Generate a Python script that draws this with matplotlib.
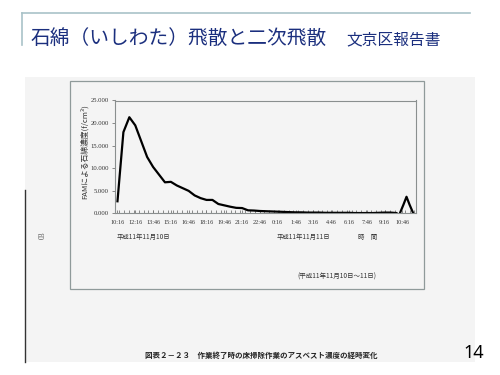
import numpy as np
import matplotlib
matplotlib.use("Agg")
import matplotlib.pyplot as plt
from matplotlib.patches import Rectangle

JP = ["Noto Sans CJK JP", "DejaVu Sans"]
SERIF = ["Liberation Serif", "DejaVu Serif"]

# FAM asbestos concentration (f/cm3), one reading every 30 min from 10:16
conc = [2.7, 18.0, 21.3, 19.5, 16.0, 12.5, 10.3, 8.6, 6.9, 7.0,
        6.2, 5.6, 5.0, 4.0, 3.4, 3.0, 3.0, 2.1, 1.8, 1.5,
        1.25, 1.2, 0.7, 0.65, 0.55, 0.5, 0.45, 0.4, 0.35, 0.3,
        0.25, 0.25, 0.2, 0.2, 0.2, 0.15, 0.15, 0.15, 0.15, 0.15,
        0.1, 0.1, 0.1, 0.1, 0.15, 0.2, 0.2, 0.1]
# second burst near the end (position in 30 min steps, value)
spike_pos = [47.6, 48.2, 48.7, 49.2, 49.85]
spike_val = [0.1, 2.0, 3.7, 2.0, 0.0]

time_labels = ["10:16", "12:16", "13:46", "15:16", "16:46", "18:16", "19:46",
               "21:16", "22:46", "0:16", "1:46", "3:16", "4:46", "6:16",
               "7:46", "9:16", "10:46"]
y_ticks = [0, 5, 10, 15, 20, 25]

fig = plt.figure(figsize=(5, 3.75), dpi=100)
fig.patch.set_facecolor("white")

# background axes in pixel coordinates for the slide decoration
bg = fig.add_axes([0, 0, 1, 1])
bg.set_xlim(0, 500)
bg.set_ylim(375, 0)
bg.axis("off")

# scanned page
bg.add_patch(Rectangle((25, 77), 450, 285, facecolor="#f4f4f4", edgecolor="none"))
bg.plot([25, 25], [190, 362], color="#333333", lw=1.0)
bg.add_patch(Rectangle((70, 81), 354, 208, facecolor="none", edgecolor="#8f9a9a", lw=0.9))

# slide header
bg.plot([22, 470], [13, 13], color="#a9c2c8", lw=1.2)
bg.plot([22, 22], [13, 45], color="#a9c2c8", lw=1.2)
bg.text(31, 38, "石綿（いしわた）飛散と二次飛散", family=JP, fontsize=14.2,
        color="#1b2f7e", va="center", ha="left")
bg.text(346, 40, "文京区報告書", family=JP, fontsize=11.3,
        color="#1b2f7e", va="center", ha="left")

# texts on the scan
bg.text(85, 152, "FAMによる石綿濃度(f/cm³)", family=JP, fontsize=5.6,
        rotation=90, ha="center", va="center", color="#333333")
bg.text(117, 237, "平成11年11月10日", family=JP, fontsize=4.6, color="#333333",
        ha="left", va="center")
bg.text(277, 237, "平成11年11月11日", family=JP, fontsize=4.6, color="#333333",
        ha="left", va="center")
bg.text(358, 237, "時　間", family=JP, fontsize=4.6, color="#333333",
        ha="left", va="center")
bg.text(297, 277, "(平成11年11月10日～11日)", family=JP, fontsize=4.7,
        color="#333333", ha="left", va="center")
bg.text(43, 235, "03", family=SERIF, fontsize=5.5, rotation=90, color="#555555",
        ha="center", va="center")
bg.text(145, 355, "図表２－２３　作業終了時の床掃除作業のアスベスト濃度の経時変化",
        family=JP, fontsize=5.4, weight="bold", color="#222222", ha="left", va="center")
bg.text(474, 353, "14", family=["Noto Sans", "DejaVu Sans"], fontsize=13,
        weight="semibold", color="black", ha="center", va="center")

# chart
ax = fig.add_axes([0.229, 0.4307, 0.603, 0.3013])
ax.set_facecolor("none")
ax.plot(range(len(conc)), conc, color="black", lw=1.6, solid_joinstyle="round")
ax.plot(spike_pos, spike_val, color="black", lw=1.6, solid_joinstyle="round")
ax.set_xlim(-0.5, 50.3)
ax.set_ylim(0, 25)

ax.set_yticks(y_ticks)
ax.set_yticklabels([f"{v:.3f}" for v in y_ticks], family=SERIF, fontsize=4.8,
                   color="#333333")
ax.set_xticks(np.arange(len(time_labels)) * 3)
ax.set_xticklabels(time_labels, family=SERIF, fontsize=4.4, color="#333333")
ax.set_xticks(np.arange(-0.5, 50.3, 0.815), minor=True)
ax.tick_params(axis="x", which="major", direction="in", length=2, width=0.6,
               color="#777777", pad=5)
ax.tick_params(axis="x", which="minor", direction="in", length=2, width=0.6,
               color="#777777")
ax.tick_params(axis="y", direction="out", length=2, width=0.6, color="#777777", pad=2)
for s in ax.spines.values():
    s.set_color("#8a8f8f")
    s.set_linewidth(0.8)

fig.savefig("out.png", dpi=100)
